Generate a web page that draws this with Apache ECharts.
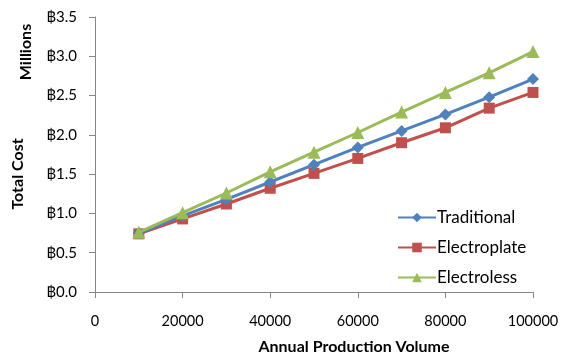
<!DOCTYPE html>
<html><head><meta charset="utf-8">
<script src="https://cdn.jsdelivr.net/npm/echarts@6/dist/echarts.min.js"></script>
<style>html,body{margin:0;padding:0;background:#fff}#c{width:562px;height:358px}</style>
</head><body><div id="c"></div>
<script>
var volumes = [10000,20000,30000,40000,50000,60000,70000,80000,90000,100000];
var traditional = [0.75,0.97,1.18,1.40,1.62,1.84,2.05,2.26,2.48,2.71];
var electroplate = [0.74,0.93,1.12,1.32,1.51,1.70,1.90,2.09,2.34,2.54];
var electroless = [0.76,1.01,1.26,1.53,1.78,2.03,2.29,2.54,2.79,3.06];
var seriesNames = ['Traditional','Electroplate','Electroless'];
var colors = ['#4F81BD','#C0504D','#9BBB59'];
var FONT = 'Lato, "Liberation Sans", sans-serif';
function pts(arr){ return volumes.map(function(v,i){ return [v, arr[i]]; }); }
var chart = echarts.init(document.getElementById('c'), null, {renderer:'canvas'});
var axisCol = '#868686';
chart.setOption({
  animation:false,
  grid:{left:95, right:29, top:17, bottom:66, containLabel:false},
  xAxis:{type:'value', min:0, max:100000, interval:20000,
    axisLine:{lineStyle:{color:axisCol, width:1}},
    axisTick:{show:true, length:6, lineStyle:{color:axisCol}},
    splitLine:{show:false},
    axisLabel:{color:'#000', fontFamily:FONT, fontSize:14.5, margin:22,
      formatter:function(v){ return String(v); }}
  },
  yAxis:{type:'value', min:0, max:3.5, interval:0.5,
    axisLine:{show:true, lineStyle:{color:axisCol, width:1}},
    axisTick:{show:true, length:6, lineStyle:{color:axisCol}},
    splitLine:{show:false},
    axisLabel:{color:'#000', fontFamily:FONT, fontSize:15, margin:18,
      formatter:function(v){ return '\u0E3F' + v.toFixed(1); }}
  },
  legend:{orient:'vertical', left:392, top:204, itemWidth:38, itemHeight:12, itemGap:13,
    textStyle:{fontFamily:FONT, fontSize:17, color:'#000', padding:[0,0,0,-4]},
    data:seriesNames},
  graphic:[
    {type:'text', x:18, y:174, rotation:Math.PI/2, style:{text:'Total Cost', font:'bold 16px '+FONT, fill:'#000', align:'center', verticalAlign:'middle'}},
    {type:'text', x:26, y:52, rotation:Math.PI/2, style:{text:'Millions', font:'bold 16px '+FONT, fill:'#000', align:'center', verticalAlign:'middle'}},
    {type:'text', x:354, y:347, style:{text:'Annual Production Volume', font:'bold 16px '+FONT, fill:'#000', align:'center', verticalAlign:'middle'}}
  ],
  series:[
    {name:seriesNames[0], type:'line', data:pts(traditional), symbol:'diamond', symbolSize:12,
      itemStyle:{color:colors[0]}, lineStyle:{width:3, color:colors[0]}, z:3},
    {name:seriesNames[1], type:'line', data:pts(electroplate), symbol:'rect', symbolSize:11,
      itemStyle:{color:colors[1]}, lineStyle:{width:3, color:colors[1]}, z:2},
    {name:seriesNames[2], type:'line', data:pts(electroless), symbol:'triangle', symbolSize:13,
      itemStyle:{color:colors[2]}, lineStyle:{width:3, color:colors[2]}, z:4}
  ]
});
</script></body></html>
